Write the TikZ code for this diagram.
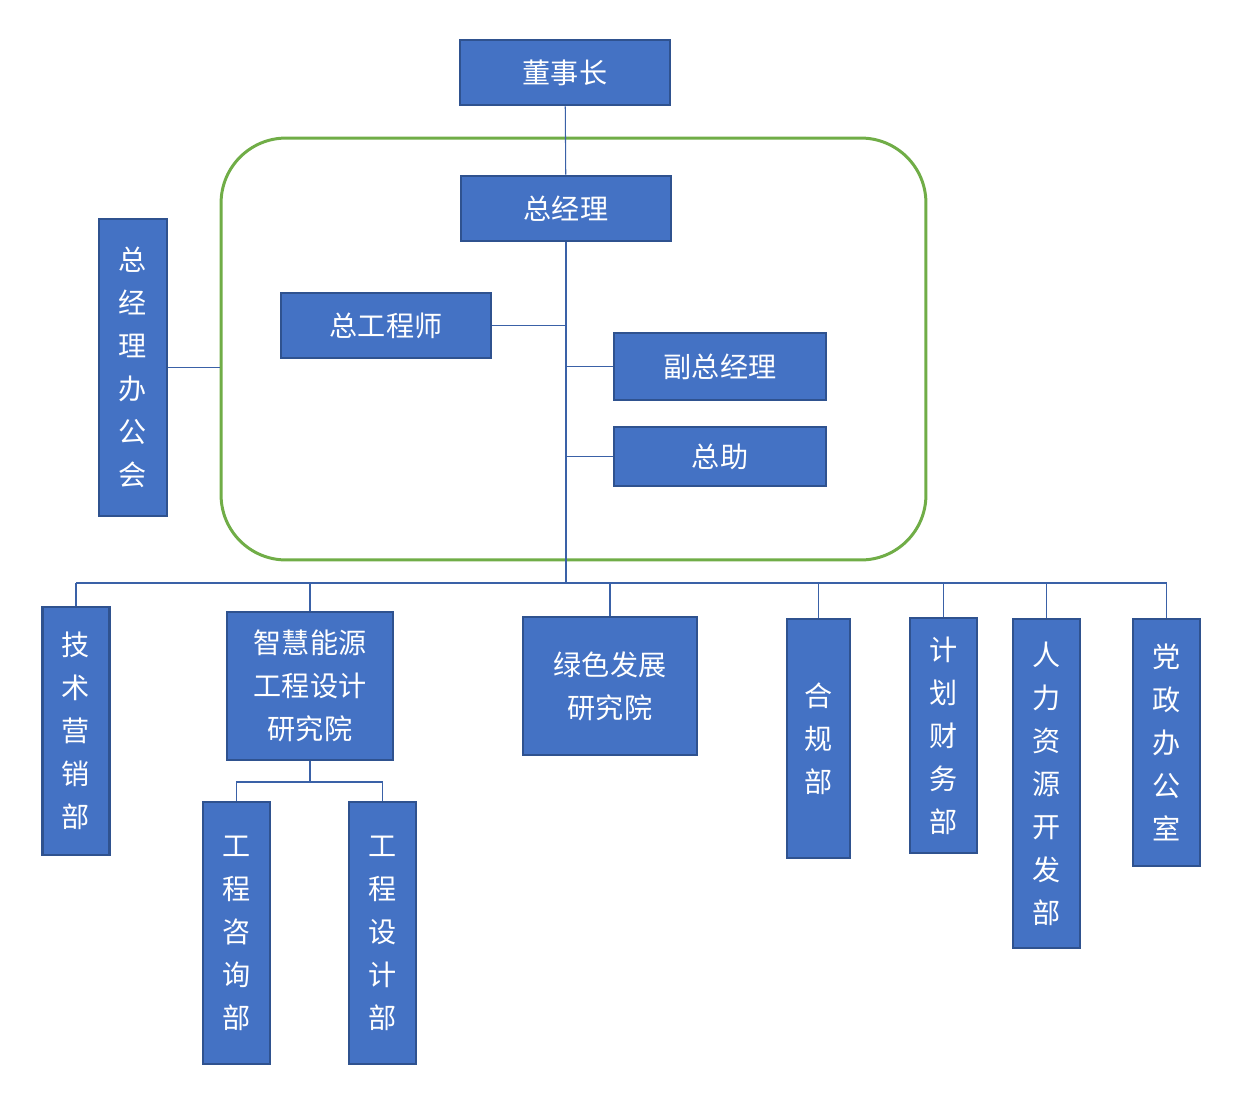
\documentclass[tikz,border=0pt]{standalone}
\usepackage{fontspec}
\usepackage{tikz}
\newfontfamily\cjk{Noto Sans CJK SC}
\definecolor{boxblue}{HTML}{4472C4}
\definecolor{boxedge}{HTML}{2F528F}
\definecolor{framegreen}{HTML}{70AD47}

\begin{document}
\begin{tikzpicture}[
    x=0.02cm, y=-0.02cm,
    unit/.style={rectangle, draw=boxedge, fill=boxblue, line width=1.6pt, inner sep=0pt,
        text=white, align=center, font={\cjk\fontsize{16}{24.5}\selectfont}},
    link/.style={draw=boxblue!85!black, line width=0.6pt},
    frame/.style={rectangle, draw=framegreen, line width=1.7pt, rounded corners=1.3cm,
        minimum width=14.1cm, minimum height=8.44cm}
]
    \useasboundingbox (0,0) rectangle (1236,1112);

    % top level
    \node[unit, minimum width=4.2cm, minimum height=1.3cm] (chair) at (565,72.5) {董事长};
    \node[frame] (team) at (573.5,349) {};
    \node[unit, minimum width=4.2cm, minimum height=1.3cm] (gm) at (566,208.5) {总经理};
    \node[unit, minimum width=4.2cm, minimum height=1.3cm] (chiefeng) at (386,325.5) {总工程师};
    \node[unit, minimum width=4.24cm, minimum height=1.34cm] (deputy) at (720,366.5) {副总经理};
    \node[unit, minimum width=4.24cm, minimum height=1.18cm] (assist) at (720,456.5) {总助};
    \node[unit, minimum width=1.36cm, minimum height=5.94cm] (office) at (133,367.5) {总\\经\\理\\办\\公\\会};

    % departments
    \node[unit, minimum width=1.34cm, minimum height=4.96cm] (tech) at (76,731) {技\\术\\营\\销\\部};
    \node[unit, minimum width=3.32cm, minimum height=2.96cm] (smart) at (310,686) {智慧能源\\工程设计\\研究院};
    \node[unit, minimum width=3.48cm, minimum height=2.76cm] (green) at (610,686) {绿色发展\\研究院};
    \node[unit, minimum width=1.26cm, minimum height=4.78cm] (comply) at (818.5,738.5) {合\\规\\部};
    \node[unit, minimum width=1.34cm, minimum height=4.7cm] (finance) at (943.5,735.5) {计\\划\\财\\务\\部};
    \node[unit, minimum width=1.34cm, minimum height=6.58cm] (hr) at (1046.5,783.5) {人\\力\\资\\源\\开\\发\\部};
    \node[unit, minimum width=1.34cm, minimum height=4.94cm] (party) at (1166.5,742.5) {党\\政\\办\\公\\室};
    \node[unit, minimum width=1.34cm, minimum height=5.24cm] (consult) at (236.5,933) {工\\程\\咨\\询\\部};
    \node[unit, minimum width=1.34cm, minimum height=5.24cm] (design) at (382.5,933) {工\\程\\设\\计\\部};

    \coordinate (bus) at (565,583);
    \coordinate (subbus) at (310,782);

    % connectors
    \draw[link] (chair) -- (gm);
    \draw[link] (gm.south) -- (gm.south |- bus);
    \draw[link] (chiefeng.east) -- (chiefeng.east -| gm.south);
    \draw[link] (deputy.west) -- (deputy.west -| gm.south);
    \draw[link] (assist.west) -- (assist.west -| gm.south);
    \draw[link] (office.east) -- (office.east -| team.west);
    \draw[link] (tech.north |- bus) -- (party.north |- bus);
    \draw[link] (tech.north) -- (tech.north |- bus);
    \draw[link] (smart.north) -- (smart.north |- bus);
    \draw[link] (green.north) -- (green.north |- bus);
    \draw[link] (comply.north) -- (comply.north |- bus);
    \draw[link] (finance.north) -- (finance.north |- bus);
    \draw[link] (hr.north) -- (hr.north |- bus);
    \draw[link] (party.north) -- (party.north |- bus);
    \draw[link] (smart.south) -- (subbus);
    \draw[link] (consult.north) |- (subbus) -| (design.north);
\end{tikzpicture}
\end{document}
